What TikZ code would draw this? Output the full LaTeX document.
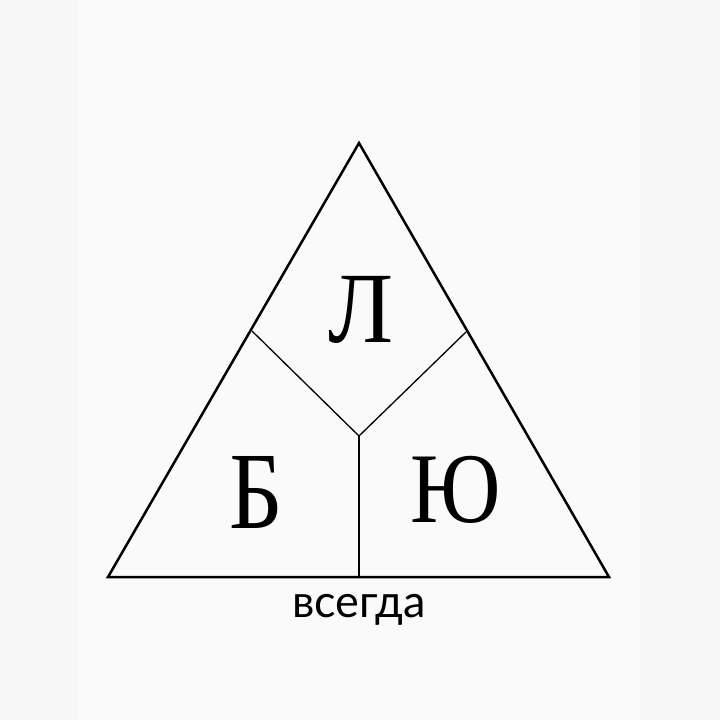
\documentclass[tikz,border=0pt]{standalone}
\usepackage{fontspec}
\setmainfont{Liberation Serif}
\newfontfamily\labfont{Lato}
\definecolor{bgout}{HTML}{F7F7F8}
\definecolor{bgin}{HTML}{FAFAFA}
\begin{document}
\begin{tikzpicture}[x=1pt,y=-1pt,
  outer/.style={line width=2.5pt,line join=miter},
  inner/.style={line width=1.3pt},
  letter/.style={inner sep=0pt,anchor=base}]
\fill[bgout] (0,0) rectangle (720,720);
\fill[bgin] (78,0) rectangle (640,720);
\useasboundingbox (0,0) rectangle (720,720);
\coordinate (A) at (359,143);
\coordinate (L) at (108,577);
\coordinate (R) at (609,577);
\coordinate (JL) at (252,331);
\coordinate (JR) at (466,332);
\coordinate (C) at (359,436);
\coordinate (B) at (359,577);
\draw[outer] (A) -- (L) -- (R) -- cycle;
\draw[inner] (JL) -- (C) -- (JR);
\draw[inner] (C) -- (B);
\node[letter,font=\fontsize{101}{101}\selectfont,xscale=0.95] (tl) at (361,342) {Л};
\node[letter,font=\fontsize{110}{110}\selectfont,xscale=0.85] (tb) at (256,528) {Б};
\node[letter,font=\fontsize{100}{100}\selectfont,xscale=0.88] (tu) at (456,522) {Ю};
\node[letter,font=\labfont\fontsize{45}{45}\selectfont] (tv) at (359,617) {всегда};
\end{tikzpicture}
\end{document}
